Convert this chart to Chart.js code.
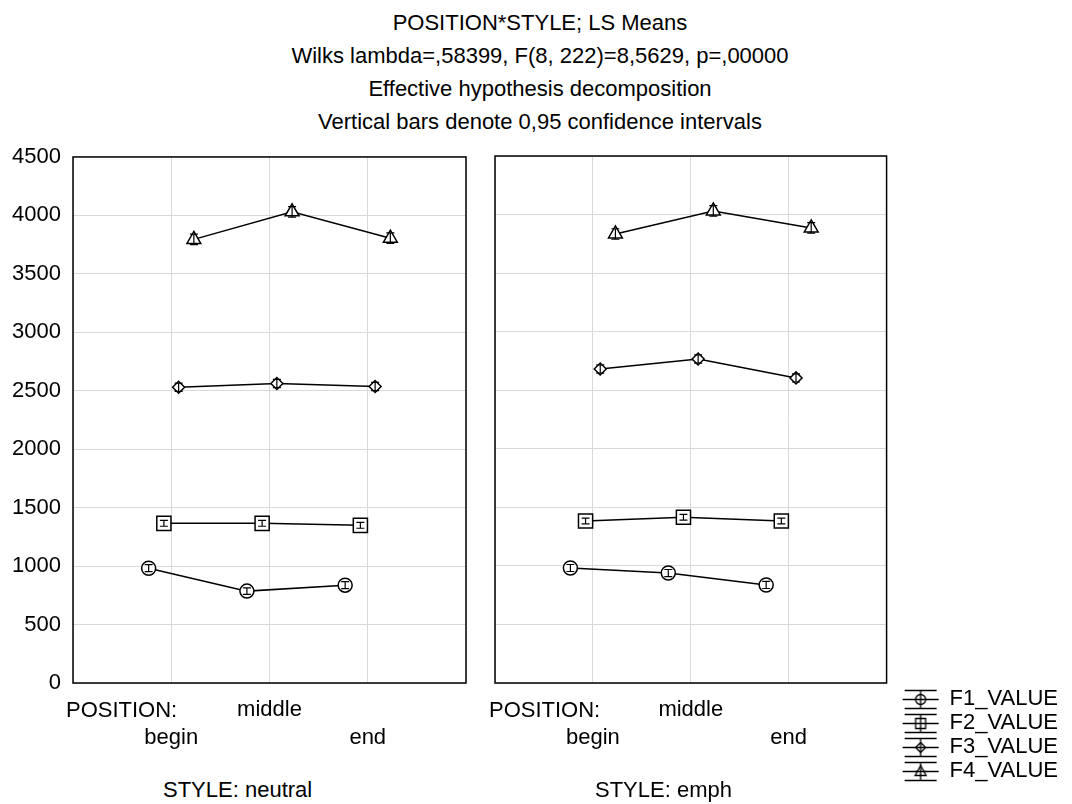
<!DOCTYPE html>
<html>
<head>
<meta charset="utf-8">
<script src="https://cdn.jsdelivr.net/npm/chart.js@4.4.1/dist/chart.umd.min.js"></script>
<style>
  html, body { margin: 0; padding: 0; background: #fff; }
  body { width: 1072px; height: 804px; position: relative; overflow: hidden; font-family: "Liberation Sans", Arial, sans-serif; color: #000; }
  #title { position: absolute; left: 0; width: 1080px; top: 6px; text-align: center; font-size: 22px; line-height: 33px; }
  .wrap { position: absolute; height: 644px; }
  .lbl { position: absolute; font-size: 22px; line-height: 28px; white-space: nowrap; }
</style>
</head>
<body>
<div id="title">POSITION*STYLE; LS Means<br>Wilks lambda=,58399, F(8, 222)=8,5629, p=,00000<br>Effective hypothesis decomposition<br>Vertical bars denote 0,95 confidence intervals</div>
<div class="wrap" style="left:0;top:131px;width:479px"><canvas id="left"></canvas></div>
<div class="wrap" style="left:482px;top:140px;width:590px"><canvas id="right"></canvas></div>
<div class="lbl" style="left:66px;top:696px">POSITION:</div>
<div class="lbl" style="left:489px;top:696px">POSITION:</div>
<div class="lbl" style="left:163px;top:776px">STYLE: neutral</div>
<div class="lbl" style="left:595px;top:776px">STYLE: emph</div>
<script>
const positions = ["begin", "middle", "end"];
const seriesNames = ["F1_VALUE", "F2_VALUE", "F3_VALUE", "F4_VALUE"];

// STYLE: neutral, one array per series (begin, middle, end)
const neutralF1 = [982, 786, 837];
const neutralF2 = [1366, 1366, 1349];
const neutralF3 = [2530, 2562, 2536];
const neutralF4 = [3795, 4031, 3805];

// STYLE: emph
const emphF1 = [982, 939, 837];
const emphF2 = [1383, 1415, 1383];
const emphF3 = [2681, 2767, 2605];
const emphF4 = [3834, 4031, 3886];

// half widths of the 0,95 confidence intervals (small, mostly hidden by the markers)
const neutralCI = [[30, 28, 30], [25, 25, 25], [35, 35, 35], [45, 45, 45]];
const emphCI = [[30, 30, 30], [25, 25, 25], [35, 35, 35], [45, 45, 45]];

const yMin = 0, yMax = 4500, yStep = 500;

const FONT = "'Liberation Sans', Arial, sans-serif";
const gridColor = "#d9d9d9";
const pointStyles = ["circle", "rect", "rectRot", "triangle"];
const pointRadii = [7, 10, 6, 8];
const offsets = [-0.23, -0.075, 0.075, 0.23];

function buildDatasets(values, cis) {
    return seriesNames.map((name, i) => ({
        label: name,
        data: values[i].map((v, j) => ({ x: j + 1 + offsets[i], y: v })),
        ci: cis[i],
        borderColor: "#000",
        borderWidth: 1.5,
        backgroundColor: "#fff",
        pointStyle: pointStyles[i],
        pointRadius: pointRadii[i],
        pointBorderWidth: 1.5,
        pointBorderColor: "#000",
        pointBackgroundColor: "#fff",
        tension: 0,
    }));
}

// box round the plot area
const frame = {
    id: "frame",
    beforeDatasetsDraw(chart) {
        const a = chart.chartArea, ctx = chart.ctx;
        ctx.save();
        ctx.strokeStyle = "#000";
        ctx.lineWidth = 1.5;
        ctx.strokeRect(a.left, a.top, a.right - a.left, a.bottom - a.top);
        ctx.restore();
    },
};

// vertical confidence bars
const ciBars = {
    id: "ciBars",
    afterDatasetsDraw(chart) {
        const ctx = chart.ctx, ys = chart.scales.y;
        ctx.save();
        ctx.strokeStyle = "#000";
        ctx.lineWidth = 1.2;
        chart.data.datasets.forEach((ds, i) => {
            chart.getDatasetMeta(i).data.forEach((pt, j) => {
                const v = ds.data[j].y, h = ds.ci[j];
                const top = ys.getPixelForValue(v + h), bot = ys.getPixelForValue(v - h);
                ctx.beginPath();
                ctx.moveTo(pt.x, top); ctx.lineTo(pt.x, bot);
                ctx.moveTo(pt.x - 4, top); ctx.lineTo(pt.x + 4, top);
                ctx.moveTo(pt.x - 4, bot); ctx.lineTo(pt.x + 4, bot);
                ctx.stroke();
            });
        });
        ctx.restore();
    },
};

function legendSymbol(i) {
    const c = document.createElement("canvas");
    c.width = 38; c.height = 24;
    const g = c.getContext("2d");
    g.strokeStyle = "#000"; g.fillStyle = "#fff"; g.lineWidth = 1.3;
    g.beginPath();
    g.moveTo(1, 12.5); g.lineTo(37, 12.5);
    g.moveTo(3, 3.5); g.lineTo(35, 3.5);
    g.moveTo(3, 21.5); g.lineTo(35, 21.5);
    g.stroke();
    g.beginPath();
    const cx = 19, cy = 12.5;
    if (i === 0) g.arc(cx, cy, 5, 0, Math.PI * 2);
    else if (i === 1) g.rect(cx - 5, cy - 5, 10, 10);
    else if (i === 2) { g.moveTo(cx - 5, cy); g.lineTo(cx, cy - 5); g.lineTo(cx + 5, cy); g.lineTo(cx, cy + 5); g.closePath(); }
    else { g.moveTo(cx, cy - 6); g.lineTo(cx + 5.5, cy + 4); g.lineTo(cx - 5.5, cy + 4); g.closePath(); }
    g.fill(); g.stroke();
    g.beginPath();
    g.moveTo(cx, 3.5); g.lineTo(cx, 21.5);
    g.moveTo(cx - 5, cy); g.lineTo(cx + 5, cy);
    g.stroke();
    return c;
}
const legendImgs = seriesNames.map((_, i) => legendSymbol(i));

function xTickLabel(v) {
    if (v === 2) return [positions[1], ""];
    if (v === 1 || v === 3) return ["", positions[v - 1]];
    return "";
}

function makeChart(id, values, cis, isLeft) {
    const tickFont = { family: FONT, size: 22, lineHeight: 1.27 };
    return new Chart(document.getElementById(id).getContext("2d"), {
        type: "line",
        data: { datasets: buildDatasets(values, cis) },
        options: {
            responsive: true,
            maintainAspectRatio: false,
            animation: false,
            events: [],
            layout: { padding: isLeft ? { top: 16, left: 0, right: 4, bottom: 0 } : { top: 16, left: 5, right: 4, bottom: 0 } },
            scales: {
                x: {
                    type: "linear",
                    min: 0,
                    max: 4,
                    afterFit: (s) => { s.height = isLeft ? 92 : 101; },
                    ticks: { stepSize: 1, padding: 13, color: "#000", font: tickFont, maxRotation: 0, autoSkip: false, callback: xTickLabel },
                    grid: { color: gridColor, drawTicks: false },
                    border: { display: false },
                },
                y: {
                    position: isLeft ? "left" : "right",
                    min: yMin,
                    max: yMax,
                    afterFit: (s) => { s.width = isLeft ? 73 : 14; },
                    ticks: { display: isLeft, stepSize: yStep, padding: 12, color: "#000", font: tickFont, callback: (v) => String(v) },
                    grid: { color: gridColor, drawTicks: false },
                    border: { display: false },
                },
            },
            plugins: {
                title: { display: false },
                tooltip: { enabled: false },
                legend: {
                    display: !isLeft,
                    position: "right",
                    align: "end",
                    maxWidth: 200,
                    onClick: null,
                    labels: {
                        usePointStyle: true,
                        pointStyleWidth: 36,
                        boxHeight: 22,
                        padding: 2,
                        color: "#000",
                        font: { family: FONT, size: 22 },
                        generateLabels: () => seriesNames.map((n, i) => ({
                            text: n, pointStyle: legendImgs[i], fillStyle: "#fff",
                            strokeStyle: "#000", lineWidth: 0, hidden: false, datasetIndex: i,
                        })),
                    },
                },
            },
        },
        plugins: [frame, ciBars],
    });
}

makeChart("left", [neutralF1, neutralF2, neutralF3, neutralF4], neutralCI, true);
makeChart("right", [emphF1, emphF2, emphF3, emphF4], emphCI, false);
</script>
</body>
</html>
